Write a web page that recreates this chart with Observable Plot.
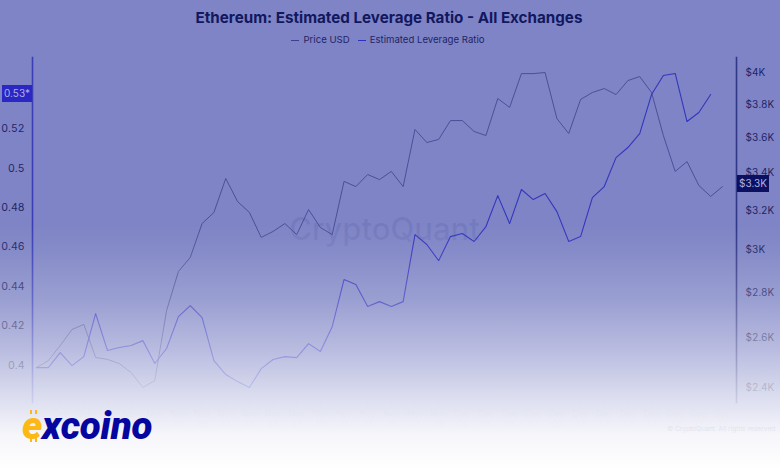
<!DOCTYPE html>
<html>
<head>
<meta charset="utf-8">
<script src="https://cdn.jsdelivr.net/npm/d3@7"></script>
<script src="https://cdn.jsdelivr.net/npm/@observablehq/plot@0.6"></script>
<style>
html,body{margin:0;padding:0;background:#fff}
#stage{position:relative;width:780px;height:470px;overflow:hidden;background:#7e84c5;font-family:Inter,"Noto Sans",sans-serif}
#stage svg{position:absolute;left:0;top:0;background:transparent;overflow:visible}
#title{position:absolute;left:-1px;width:780px;top:8px;text-align:center;font-size:15.2px;font-weight:700;line-height:20px;color:#12185f}
#legend{position:absolute;left:-2px;width:780px;top:33px;text-align:center;font-size:9.6px;line-height:14px;color:#1f2468}
#legend span{margin:0 4px}
#legend i{display:inline-block;width:8px;height:1px;vertical-align:middle;margin-right:4px}
.tag{position:absolute;height:17px;line-height:17px;font-size:10px;text-align:center;color:#aeb2e2}
#fade{position:absolute;inset:0;background:linear-gradient(to bottom,rgba(255,255,255,0) 0,rgba(255,255,255,0) 225px,rgba(255,255,255,.06) 250px,rgba(255,255,255,.22) 300px,rgba(255,255,255,.46) 350px,rgba(255,255,255,.74) 400px,rgba(255,255,255,.93) 435px,#fff 470px)}
#copy{position:absolute;left:667px;top:424px;font-size:6.6px;line-height:10px;color:#1f2468;opacity:.08;white-space:nowrap}
#logo{position:absolute;left:22px;top:404px;font-family:Roboto,"Liberation Sans",sans-serif;font-weight:900;font-style:italic;font-size:38.4px;line-height:44px;letter-spacing:-.2px;color:#0505a0;white-space:nowrap}
#logo b{color:#fdb813;font-weight:900;position:relative}
#logo b::before,#logo b::after{content:"";position:absolute;left:8px;width:7px;height:4px;border-left:2.5px solid #fdb813;border-right:2.5px solid #fdb813;box-sizing:border-box}
#logo b::before{top:7px}
#logo b::after{top:35px}
</style>
</head>
<body>
<div id="stage">
  <div id="title">Ethereum: Estimated Leverage Ratio - All Exchanges</div>
  <div id="legend"><span><i style="background:#3b4090"></i>Price USD</span><span><i style="background:#2f2fc0"></i>Estimated Leverage Ratio</span></div>
  <div id="charts"></div>
  <div id="fade"></div>
  <div id="copy">© CryptoQuant. All rights reserved</div>
  <div id="logo"><b>e</b>xcoino</div>
</div>
<script>
const startDate = "2023-10-26";
const priceUSD = [2479,2507,2569,2637,2659,2520,2512,2495,2459,2400,2427,2720,2898,2965,3133,3190,3371,3247,3190,3063,3093,3133,3077,3205,3113,3077,3355,3327,3393,3365,3410,3327,3651,3574,3592,3704,3704,3639,3615,3839,3784,3998,3998,4005,3716,3627,3833,3877,3902,3864,3953,3979,3877,3615,3410,3465,3333,3274,3327];
const leverageRatio = [0.3988,0.3988,0.4064,0.3998,0.4044,0.4262,0.4075,0.4090,0.4100,0.4125,0.4009,0.4085,0.4247,0.4303,0.4242,0.4024,0.3953,0.3917,0.3887,0.3983,0.4029,0.4044,0.4039,0.4110,0.4070,0.4196,0.4435,0.4410,0.4298,0.4323,0.4298,0.4323,0.4663,0.4613,0.4531,0.4653,0.4669,0.4628,0.4704,0.4861,0.4719,0.4892,0.4841,0.4872,0.4780,0.4628,0.4653,0.4851,0.4907,0.5054,0.5105,0.5176,0.5374,0.5471,0.5481,0.5237,0.5283,0.5374];
const leverageTicks = [0.4,0.42,0.44,0.46,0.48,0.5,0.52];
const priceTicks = [2400,2600,2800,3000,3200,3400,3600,3800,4000];
const lastLeverageLabel = "0.53*";
const lastPriceLabel = "$3.3K";
const leverageDomain = [0.3811,0.5562];
const priceDomain = [2342,4104];

const day0 = d3.utcParse("%Y-%m-%d")(startDate);
const dates = priceUSD.map((_, i) => d3.utcDay.offset(day0, i));
const dateTicks = dates.filter((_, i) => i % 2 === 0);
const priceRows = priceUSD.map((v, i) => ({date: dates[i], v}));
const levRows = leverageRatio.map((v, i) => ({date: dates[i], v}));

const frame = {
  width: 780, height: 470,
  marginTop: 57, marginBottom: 68, marginLeft: 32, marginRight: 44,
  insetLeft: 4, insetRight: 14,
  style: {background: "transparent", fontFamily: "Inter, 'Noto Sans', sans-serif"}
};
const xScale = {type: "utc", domain: [dates[0], dates[dates.length - 1]]};
const fmtX = d => d3.utcFormat("%b")(d) + "\n" + d3.utcFormat("%d")(d);
const fmtP = d => d % 1000 === 0 ? "$" + d / 1000 + "K" : "$" + d3.format(".1f")(d / 1000) + "K";

const left = Plot.plot({
  ...frame,
  x: xScale,
  y: {domain: leverageDomain},
  marks: [
    Plot.text(["CryptoQuant"], {frameAnchor: "middle", fontSize: 31, fill: "#1a2070", fillOpacity: 0.09, fontWeight: 500}),
    Plot.frame({anchor: "left", stroke: "#3a3fb8", strokeWidth: 1.6}),
    Plot.axisX({ticks: dateTicks, tickFormat: fmtX, tickSize: 3, tickPadding: 5, fontSize: 8.5, lineHeight: 1.15, stroke: "#6a6fb8", strokeOpacity: 0.5, fill: "#7176b8", label: null}),
    Plot.axisY({anchor: "left", ticks: leverageTicks, tickFormat: d => String(d), tickSize: 0, tickPadding: 8, fontSize: 10.5, fill: "#1f2468", label: null}),
    Plot.line(levRows, {x: "date", y: "v", stroke: "#3436bd", strokeWidth: 1.1})
  ]
});

const right = Plot.plot({
  ...frame,
  x: {...xScale, axis: null},
  y: {type: "log", domain: priceDomain},
  marks: [
    Plot.frame({anchor: "right", stroke: "#323888", strokeWidth: 1.6}),
    Plot.axisY({anchor: "right", ticks: priceTicks, tickFormat: fmtP, tickSize: 0, tickPadding: 9, fontSize: 10, fill: "#1f2468", label: null}),
    Plot.line(priceRows, {x: "date", y: "v", stroke: "#454a94", strokeWidth: 0.9})
  ]
});

const holder = document.getElementById("charts");
holder.append(right, left);

function tag(text, yPos, leftPx, widthPx, bg) {
  const d = document.createElement("div");
  d.className = "tag";
  d.textContent = text;
  d.style.left = leftPx + "px";
  d.style.width = widthPx + "px";
  d.style.top = (yPos - 8.5) + "px";
  d.style.background = bg;
  holder.append(d);
}
tag(lastLeverageLabel, left.scale("y").apply(leverageRatio[leverageRatio.length - 1]) - 1, 2, 30, "#2a27c4");
tag(lastPriceLabel, right.scale("y").apply(priceUSD[priceUSD.length - 1]) - 3, 737, 32, "#0b1060");
</script>
</body>
</html>
